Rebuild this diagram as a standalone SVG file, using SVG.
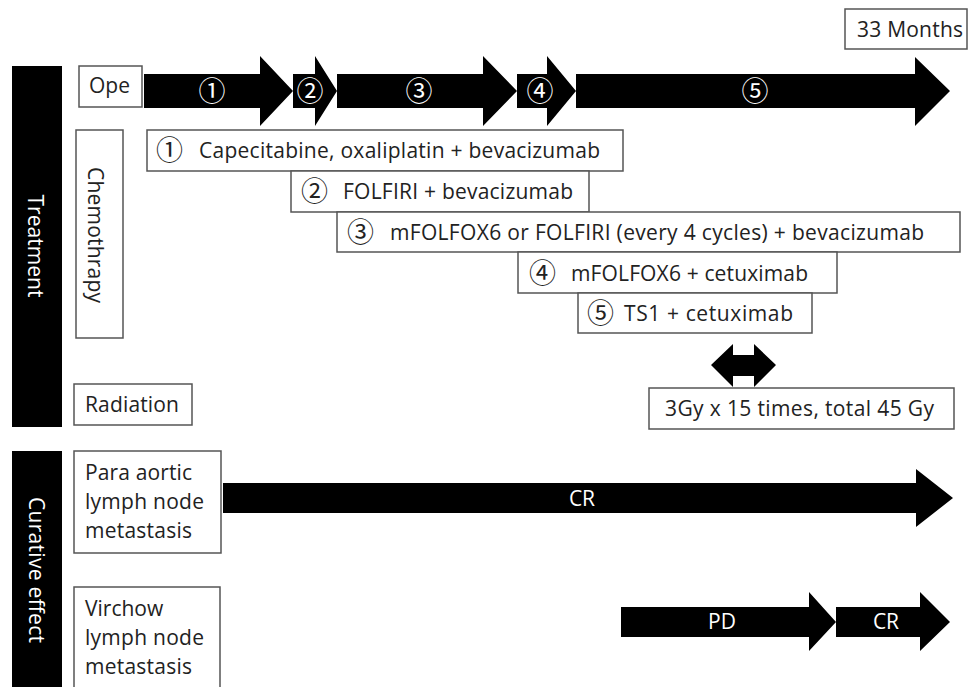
<svg xmlns="http://www.w3.org/2000/svg" width="968" height="687" viewBox="0 0 968 687">
<style>
.box{fill:#fff;stroke:#555;stroke-width:1.5}
.t{font-family:"Open Sans","Noto Sans",sans-serif;font-size:21px;fill:#222}
.w{font-family:"Open Sans","Noto Sans",sans-serif;font-size:21px;fill:#fff}
.c{font-family:"Noto Sans CJK JP","DejaVu Sans",sans-serif;font-size:27px;fill:#222}
.cw{font-family:"Noto Sans CJK JP","DejaVu Sans",sans-serif;font-size:27px;fill:#fff;text-anchor:middle}
.bar{fill:#000}
.arr{fill:#000}
</style>
<rect width="968" height="687" fill="#fff"/>

<g id="treatment">
<rect class="bar" x="12" y="66" width="50" height="361"/>
<text class="w" transform="translate(28,246) rotate(90)" text-anchor="middle" textLength="103">Treatment</text>
</g>
<g id="curative-effect">
<rect class="bar" x="12" y="451" width="50" height="240"/>
<text class="w" transform="translate(29,570) rotate(90)" text-anchor="middle" textLength="146">Curative effect</text>
</g>

<g id="ope">
<rect class="box" x="79" y="66" width="63" height="41"/>
<text class="t" x="89" y="93" textLength="41">Ope</text>
</g>
<g id="chemotherapy">
<rect class="box" x="76" y="130" width="47" height="208"/>
<text class="t" transform="translate(88,235) rotate(90)" text-anchor="middle" textLength="136">Chemothrapy</text>
</g>
<g id="radiation">
<rect class="box" x="74" y="384" width="118" height="41"/>
<text class="t" x="85" y="412" textLength="94">Radiation</text>
</g>
<g id="para-aortic">
<rect class="box" x="74" y="451" width="147" height="102"/>
<text class="t" x="85" y="480" textLength="107">Para aortic</text>
<text class="t" x="85" y="509" textLength="119">lymph node</text>
<text class="t" x="85" y="538" textLength="107">metastasis</text>
</g>
<g id="virchow">
<rect class="box" x="74" y="587" width="146" height="110"/>
<text class="t" x="85" y="616">Virchow</text>
<text class="t" x="85" y="645" textLength="119">lymph node</text>
<text class="t" x="85" y="674" textLength="107">metastasis</text>
</g>

<g id="months">
<rect class="box" x="845" y="9" width="122" height="40"/>
<text class="t" x="857" y="37" textLength="106">33 Months</text>
</g>

<g id="regimen1">
<rect class="box" x="147" y="130" width="476" height="41"/>
<text class="c" x="156" y="160">①</text>
<text class="t" x="199" y="158" textLength="401">Capecitabine, oxaliplatin + bevacizumab</text>
</g>
<g id="regimen2">
<rect class="box" x="291" y="171" width="298" height="41"/>
<text class="c" x="301" y="201">②</text>
<text class="t" x="343" y="199" textLength="230">FOLFIRI + bevacizumab</text>
</g>
<g id="regimen3">
<rect class="box" x="337" y="212" width="623" height="40"/>
<text class="c" x="347" y="242">③</text>
<text class="t" x="390" y="240" textLength="534">mFOLFOX6 or FOLFIRI (every 4 cycles) + bevacizumab</text>
</g>
<g id="regimen4">
<rect class="box" x="518" y="252" width="319" height="41"/>
<text class="c" x="529" y="283">④</text>
<text class="t" x="571" y="281" textLength="237">mFOLFOX6 + cetuximab</text>
</g>
<g id="regimen5">
<rect class="box" x="578" y="293" width="234" height="40"/>
<text class="c" x="587" y="323">⑤</text>
<text class="t" x="624" y="321" textLength="169">TS1 + cetuximab</text>
</g>
<g id="dose">
<rect class="box" x="649" y="388" width="305" height="41"/>
<text class="t" x="665" y="416" textLength="269">3Gy x 15 times, total 45 Gy</text>
</g>

<g id="connectors">
<polygon class="arr" points="144,74 260,74 260,56 293,91 260,126 260,108 144,108"/>
<polygon class="arr" points="293,74 315,74 315,56 337,91 315,126 315,108 293,108"/>
<polygon class="arr" points="337,74 483,74 483,56 517,91 483,126 483,108 337,108"/>
<polygon class="arr" points="517,74 547,74 547,56 576,91 547,126 547,108 517,108"/>
<polygon class="arr" points="576,74 915,74 915,57 950,91 915,126 915,108 576,108"/>
<text class="cw" x="212" y="101">①</text>
<text class="cw" x="310" y="101">②</text>
<text class="cw" x="419" y="101">③</text>
<text class="cw" x="540" y="101">④</text>
<text class="cw" x="755" y="101">⑤</text>
<polygon class="arr" points="711,365 733,344 733,355 754,355 754,344 776,365 754,387 754,376 733,376 733,387"/>
<polygon class="arr" points="223,483 916,483 916,469 953,498 916,527 916,513 223,513"/>
<text class="w" x="582" y="506" text-anchor="middle">CR</text>
<polygon class="arr" points="621,607 809,607 809,592 836,622 809,651 809,637 621,637"/>
<text class="w" x="722" y="629" text-anchor="middle">PD</text>
<polygon class="arr" points="836,607 920,607 920,592 950,622 920,651 920,637 836,637"/>
<text class="w" x="886" y="629" text-anchor="middle">CR</text>
</g>
</svg>
